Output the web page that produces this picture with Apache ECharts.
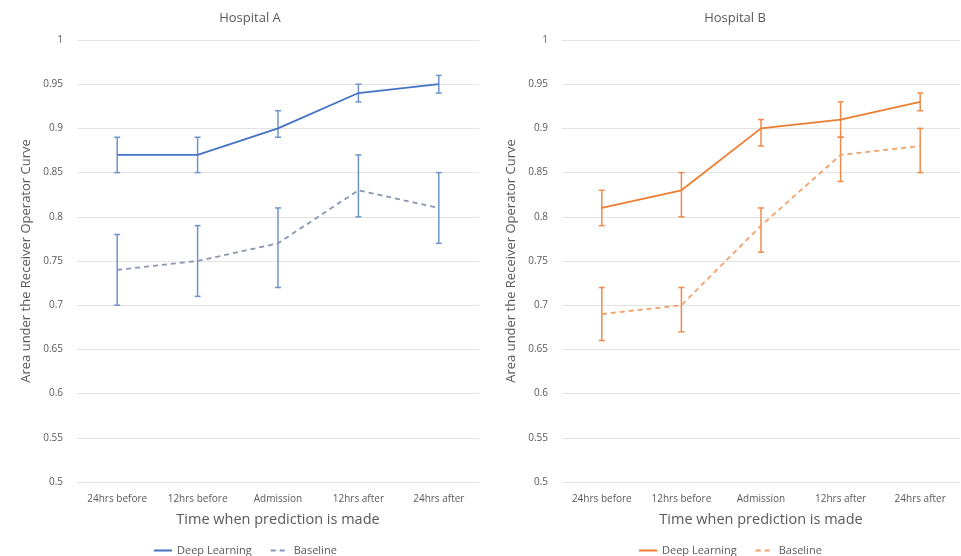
<!DOCTYPE html>
<html>
<head>
<meta charset="utf-8">
<script src="https://cdn.jsdelivr.net/npm/echarts@6/dist/echarts.min.js"></script>
<style>
  html, body { margin: 0; padding: 0; background: #ffffff; }
  #chart { width: 961px; height: 556px; }
</style>
</head>
<body>
<div id="chart"></div>
<script>
// Time points at which the prediction is made
const categories = ['24hrs before', '12hrs before', 'Admission', '12hrs after', '24hrs after'];

// Hospital A — AUROC with confidence interval bounds
const aDeep = [0.87, 0.87, 0.90, 0.94, 0.95];
const aDeepLow = [0.85, 0.85, 0.89, 0.93, 0.94];
const aDeepHigh = [0.89, 0.89, 0.92, 0.95, 0.96];
const aBase = [0.74, 0.75, 0.77, 0.83, 0.81];
const aBaseLow = [0.70, 0.71, 0.72, 0.80, 0.77];
const aBaseHigh = [0.78, 0.79, 0.81, 0.87, 0.85];

// Hospital B — AUROC with confidence interval bounds
const bDeep = [0.81, 0.83, 0.90, 0.91, 0.93];
const bDeepLow = [0.79, 0.80, 0.88, 0.89, 0.92];
const bDeepHigh = [0.83, 0.85, 0.91, 0.93, 0.94];
const bBase = [0.69, 0.70, 0.79, 0.87, 0.88];
const bBaseLow = [0.66, 0.67, 0.76, 0.84, 0.85];
const bBaseHigh = [0.72, 0.72, 0.81, 0.89, 0.90];

const titles = ['Hospital A', 'Hospital B'];
const seriesNames = ['Deep Learning', 'Baseline'];
const xTitle = 'Time when prediction is made';
const yTitle = 'Area under the Receiver Operator Curve';

const txt = '#595959';
const font = '"Open Sans", "Liberation Sans", sans-serif';

function errorSeries(idx, low, high, color) {
  return {
    type: 'custom',
    xAxisIndex: idx,
    yAxisIndex: idx,
    silent: true,
    z: 3,
    data: low.map((l, i) => [i, l, high[i]]),
    renderItem: function (params, api) {
      const lo = api.coord([api.value(0), api.value(1)]);
      const hi = api.coord([api.value(0), api.value(2)]);
      const cap = 3;
      const style = { stroke: color, lineWidth: 1.5 };
      return {
        type: 'group',
        children: [
          { type: 'line', shape: { x1: lo[0], y1: lo[1], x2: hi[0], y2: hi[1] }, style: style },
          { type: 'line', shape: { x1: lo[0] - cap, y1: lo[1], x2: lo[0] + cap, y2: lo[1] }, style: style },
          { type: 'line', shape: { x1: hi[0] - cap, y1: hi[1], x2: hi[0] + cap, y2: hi[1] }, style: style }
        ]
      };
    }
  };
}

function lineSeries(idx, name, data, color, dashed) {
  return {
    type: 'line',
    name: name,
    xAxisIndex: idx,
    yAxisIndex: idx,
    data: data,
    symbol: 'none',
    z: 4,
    lineStyle: { color: color, width: 1.8, type: dashed ? [5, 4] : 'solid' },
    itemStyle: { color: color }
  };
}

const grids = [
  { left: 77, top: 40, width: 402, height: 442 },
  { left: 562, top: 40, width: 398, height: 442 }
];

const xAxes = grids.map((g, i) => ({
  type: 'category',
  gridIndex: i,
  data: categories,
  boundaryGap: true,
  axisLine: { show: false },
  axisTick: { show: false },
  axisLabel: { color: txt, fontSize: 10, fontFamily: font, margin: 12, interval: 0 },
  name: xTitle,
  nameLocation: 'middle',
  nameGap: 30,
  nameTextStyle: { color: txt, fontSize: 14.5, fontFamily: font }
}));

const yAxes = grids.map((g, i) => ({
  type: 'value',
  gridIndex: i,
  min: 0.5,
  max: 1,
  interval: 0.05,
  axisLine: { show: false },
  axisTick: { show: false },
  splitLine: { lineStyle: { color: '#e3e3e3', width: 1 } },
  axisLabel: { color: txt, fontSize: 10, fontFamily: font, margin: 14,
               formatter: v => String(Math.round(v * 100) / 100) },
  name: yTitle,
  nameLocation: 'middle',
  nameGap: 44,
  nameTextStyle: { color: txt, fontSize: 13, fontFamily: font }
}));

const blue = '#4472C4';
const blueBase = '#8796b3';
const blueErr = '#6f93cc';
const orange = '#ED7D31';
const orangeBase = '#f2a06a';
const orangeErr = '#f08a4b';

function legendFor(prefix, left) {
  return {
    left: left, top: 540, itemWidth: 18, itemHeight: 8, itemGap: 18,
    itemStyle: { opacity: 0 },
    textStyle: { color: txt, fontSize: 11, fontFamily: font },
    data: [prefix + seriesNames[0], prefix + seriesNames[1]],
    formatter: n => n.slice(prefix.length)
  };
}

const option = {
  backgroundColor: '#ffffff',
  animation: false,
  title: [
    { text: titles[0], left: 245, top: 7, textAlign: 'center',
      textStyle: { color: txt, fontSize: 13, fontWeight: 'normal', fontFamily: font } },
    { text: titles[1], left: 730, top: 7, textAlign: 'center',
      textStyle: { color: txt, fontSize: 13, fontWeight: 'normal', fontFamily: font } }
  ],
  legend: [legendFor('A ', 148), legendFor('B ', 633)],
  grid: grids,
  xAxis: xAxes,
  yAxis: yAxes,
  series: [
    errorSeries(0, aDeepLow, aDeepHigh, blueErr),
    errorSeries(0, aBaseLow, aBaseHigh, blueErr),
    lineSeries(0, 'A ' + seriesNames[0], aDeep, blue, false),
    lineSeries(0, 'A ' + seriesNames[1], aBase, blueBase, true),
    errorSeries(1, bDeepLow, bDeepHigh, orangeErr),
    errorSeries(1, bBaseLow, bBaseHigh, orangeErr),
    lineSeries(1, 'B ' + seriesNames[0], bDeep, orange, false),
    lineSeries(1, 'B ' + seriesNames[1], bBase, orangeBase, true)
  ]
};

echarts.init(document.getElementById('chart')).setOption(option);
</script>
</body>
</html>
